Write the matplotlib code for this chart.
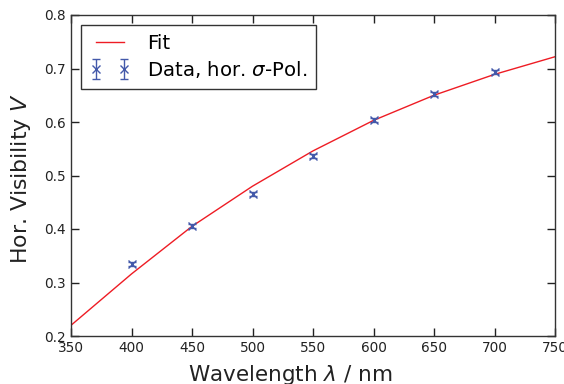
import matplotlib
matplotlib.use("Agg")
import matplotlib.pyplot as plt

# measured visibility, horizontal sigma polarisation
wavelength = [400, 450, 500, 550, 600, 650, 700]
visibility = [0.335, 0.406, 0.466, 0.537, 0.604, 0.652, 0.693]
vis_err = [0.004, 0.004, 0.004, 0.004, 0.004, 0.004, 0.004]

# fit curve
fit_wl = [350, 400, 450, 500, 550, 600, 650, 700, 750]
fit_vis = [0.220, 0.316, 0.405, 0.480, 0.546, 0.603, 0.650, 0.689, 0.722]

fig = plt.figure(figsize=(5.64, 3.84), dpi=100)
ax = fig.add_axes([71 / 564, 1 - 336 / 384, 484 / 564, 321 / 384])

ax.plot(fit_wl, fit_vis, color="#ee1c24", linewidth=1.0, label="Fit")
ax.errorbar(wavelength, visibility, yerr=vis_err, fmt="x", color="#4359aa",
            markersize=6, mew=1.0, elinewidth=1.0, capsize=3,
            label=r"Data, hor. $\sigma$-Pol.")

ax.set_xlim(350, 750)
ax.set_ylim(0.2, 0.8)
ax.set_xticks([350, 400, 450, 500, 550, 600, 650, 700, 750])
ax.set_yticks([0.2, 0.3, 0.4, 0.5, 0.6, 0.7, 0.8])
ax.tick_params(direction="in", top=True, right=True, length=6, width=1,
               labelsize=9.8, colors="#222222")
for s in ax.spines.values():
    s.set_color("#333333")
    s.set_linewidth(1.0)

ax.set_xlabel(r"Wavelength $\lambda$ / nm", fontsize=15.5, color="#222222")
ax.set_ylabel(r"Hor. Visibility $V$", fontsize=15.8, color="#222222")
ax.xaxis.set_label_coords(0.4525, -0.083)
ax.yaxis.set_label_coords(-0.079, 0.492)

leg = ax.legend(loc="upper left", numpoints=2, fontsize=14.2, fancybox=False,
                borderaxespad=0.5, handlelength=2.05, handletextpad=0.85,
                labelspacing=0.3, borderpad=0.45, framealpha=1)
leg.get_frame().set_edgecolor("#333333")
leg.get_frame().set_linewidth(1.0)

fig.savefig("out.png", dpi=100)
